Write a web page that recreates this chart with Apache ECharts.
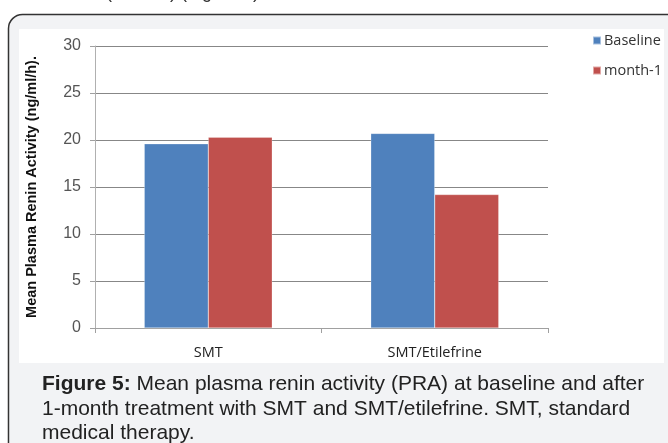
<!DOCTYPE html>
<html>
<head>
<meta charset="utf-8">
<script src="https://cdn.jsdelivr.net/npm/echarts@6/dist/echarts.min.js"></script>
<style>
html,body{margin:0;padding:0;background:#fff;}
#c{width:668px;height:443px;}
</style>
</head>
<body>
<div id="c"></div>
<script>
var categories = ['SMT', 'SMT/Etilefrine'];
var baseline = [19.6, 20.7];
var month1 = [20.3, 14.2];
var yTicks = [0, 5, 10, 15, 20, 25, 30];
var seriesNames = ['Baseline', 'month-1'];
var yAxisName = 'Mean Plasma Renin Activity (ng/ml/h).';
var captionBold = 'Figure 5:';
var captionLines = [
  ' Mean plasma renin activity (PRA) at baseline and after',
  '1-month treatment with SMT and SMT/etilefrine. SMT, standard',
  'medical therapy.'
];

var FONT = 'Liberation Sans, Arial, sans-serif';
var chart = echarts.init(document.getElementById('c'), null, {renderer: 'canvas'});
var option = {
  animation: false,
  backgroundColor: '#ffffff',
  textStyle: {fontFamily: FONT},
  graphic: {
    elements: [
      {type: 'rect', z: -30, shape: {x: 8.5, y: 14.5, width: 680, height: 460, r: 14},
       style: {fill: '#f2f3f5', stroke: '#333333', lineWidth: 1.5}},
      {type: 'rect', z: -20, shape: {x: 19, y: 29, width: 645, height: 334},
       style: {fill: '#ffffff'}},
      {type: 'text', z: -10, x: 106, y: -16,
       style: {text: '(Table 4) (Figure 5)', fontSize: 18, fill: '#333', fontFamily: FONT}},
      {type: 'text', z: 10, x: 42, y: 374,
       style: {text: '{b|' + captionBold + '}' + captionLines[0],
               fontSize: 21, fill: '#222', fontFamily: FONT,
               rich: {b: {fontWeight: 'bold', fontSize: 21, fill: '#222', fontFamily: FONT}}}},
      {type: 'text', z: 10, x: 42, y: 399,
       style: {text: captionLines[1], fontSize: 21, fill: '#222', fontFamily: FONT}},
      {type: 'text', z: 10, x: 42, y: 423,
       style: {text: captionLines[2], fontSize: 21, fill: '#222', fontFamily: FONT}}
    ]
  },
  legend: {
    orient: 'vertical',
    left: 587, top: 28,
    itemWidth: 8, itemHeight: 8, itemGap: 15,
    icon: 'rect',
    textStyle: {fontSize: 14.5, color: '#333', fontFamily: 'Open Sans, Liberation Sans, sans-serif', padding: [0, 0, 0, -2]},
    data: seriesNames
  },
  grid: {left: 95, right: 120, top: 46, bottom: 115, containLabel: false},
  xAxis: {
    type: 'category',
    data: categories,
    axisLine: {lineStyle: {color: '#a0a0a0', width: 1}},
    axisTick: {show: true, alignWithLabel: false, length: 5, lineStyle: {color: '#a0a0a0'}},
    axisLabel: {fontSize: 14.5, color: '#222', margin: 17, fontFamily: 'Open Sans, Liberation Sans, sans-serif'}
  },
  yAxis: {
    type: 'value',
    min: 0, max: 30, interval: 5,
    name: yAxisName,
    nameLocation: 'middle',
    nameGap: 56,
    nameTextStyle: {fontSize: 14.5, fontWeight: 'bold', color: '#111', fontFamily: FONT},
    axisLine: {show: true, lineStyle: {color: '#b0b0b0', width: 1}},
    axisTick: {show: true, length: 5, lineStyle: {color: '#a0a0a0'}},
    axisLabel: {fontSize: 16, color: '#555', margin: 14,
      formatter: function (v) { return yTicks.indexOf(v) >= 0 ? String(v) : ''; }},
    splitLine: {show: true, lineStyle: {color: '#878787', width: 1}}
  },
  series: [
    {name: seriesNames[0], type: 'bar', data: baseline, barWidth: 64, barGap: '0%',
     itemStyle: {color: '#4f81bd', borderColor: 'rgba(255,255,255,0.5)', borderWidth: 0.5}},
    {name: seriesNames[1], type: 'bar', data: month1, barWidth: 64, barGap: '0%',
     itemStyle: {color: '#c0504d', borderColor: 'rgba(255,255,255,0.5)', borderWidth: 0.5}}
  ]
};
chart.setOption(option);
</script>
</body>
</html>
